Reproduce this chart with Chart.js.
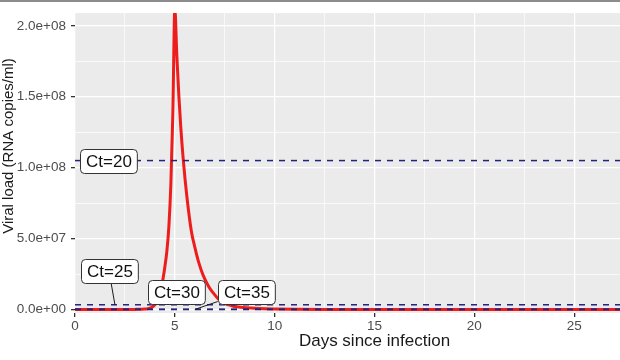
<!DOCTYPE html>
<html>
<head>
<meta charset="utf-8">
<script src="https://cdn.jsdelivr.net/npm/chart.js@4.4.1/dist/chart.umd.min.js"></script>
<style>
  html, body { margin: 0; padding: 0; background: #fff; overflow: hidden; width: 620px; height: 360px; }
  #wrap { position: absolute; left: 0; top: 0; width: 684px; height: 360px; }
  #topline { position: absolute; left: 0; top: 0; width: 620px; height: 2px; background: #8c8c8c; }
</style>
</head>
<body>
<div id="wrap"><canvas id="chart"></canvas></div>
<div id="topline"></div>
<script>
// ── Dados ────────────────────────────────────────────────────────
const days      = [0, 1, 2, 3, 3.5, 3.75, 4.0, 4.25, 4.4, 4.5, 4.6, 4.7, 4.8, 4.9, 5.0,
                   5.1, 5.2, 5.3, 5.42, 5.6, 5.83, 6.0, 6.2, 6.42, 6.7, 6.92, 7.2, 7.42,
                   7.7, 7.92, 8.3, 8.6, 9.0, 9.5, 10, 11, 13, 30];
const viralLoad = [0, 0, 0, 0.05e6, 0.3e6, 0.9e6, 3.2e6, 10e6, 21e6, 30e6, 41e6, 58e6, 88e6, 138e6, 212e6,
                   179e6, 151e6, 128e6, 106e6, 80e6, 55e6, 44e6, 33e6, 24e6, 16e6, 11.7e6, 7e6, 4.7e6,
                   3.2e6, 2.3e6, 1.6e6, 1.2e6, 0.8e6, 0.5e6, 0.3e6, 0.1e6, 0.03e6, 0];

const ctLabels = ['Ct=20', 'Ct=25', 'Ct=30', 'Ct=35'];
const ctLevels = [1.05e8, 3.3e6, 1.03e5, 3.2e3];

const xMajorTicks = [0, 5, 10, 15, 20, 25, 30];
const xMinorTicks = [2.5, 7.5, 12.5, 17.5, 22.5, 27.5];
const xTickLabels = ['0', '5', '10', '15', '20', '25', '30'];
const yMajorTicks = [0, 5e7, 1e8, 1.5e8, 2e8];
const yMinorTicks = [2.5e7, 7.5e7, 1.25e8, 1.75e8];
const yTickLabels = ['0.0e+00', '5.0e+07', '1.0e+08', '1.5e+08', '2.0e+08'];

// posição dos rótulos (estilo ggrepel): centro da caixa e ponto âncora, em unidades dos eixos
const ctLabelPos = [
    { cx: 1.68, cy: 1.047e8, ax: 2 },
    { cx: 1.70, cy: 27.4e6,  ax: 2 },
    { cx: 5.06, cy: 12.5e6,  ax: 5 },
    { cx: 8.57, cy: 12.5e6,  ax: 6 }
];

const FONT = '"Liberation Sans", Arial, sans-serif';
const isMajor = (list, v) => list.some(m => Math.abs(m - v) < 1e-9 * Math.max(1, Math.abs(m)));

// ── Plugins ──────────────────────────────────────────────────────
const panelBg = {
    id: 'panelBg',
    beforeDraw(chart) {
        const { ctx, chartArea: a } = chart;
        ctx.save();
        ctx.fillStyle = '#ebebeb';
        ctx.fillRect(a.left, a.top, a.right - a.left, a.bottom - a.top);
        ctx.restore();
    }
};

const ctLabelPlugin = {
    id: 'ctLabels',
    afterDatasetsDraw(chart) {
        const { ctx, scales: { x, y } } = chart;
        ctx.save();
        ctx.font = '17px ' + FONT;
        ctLabels.forEach((txt, i) => {
            const p  = ctLabelPos[i];
            const cx = x.getPixelForValue(p.cx), cy = y.getPixelForValue(p.cy);
            const ax = x.getPixelForValue(p.ax), ay = y.getPixelForValue(ctLevels[i]);
            const w  = ctx.measureText(txt).width + 11, h = 24;

            // segmento até o ponto
            const dx = ax - cx, dy = ay - cy;
            const t = Math.min(Math.abs((w / 2) / dx), Math.abs((h / 2) / dy));
            if (t < 1) {
                const sx = cx + dx * t, sy = cy + dy * t;
                if (Math.hypot(ax - sx, ay - sy) > 8) {
                    ctx.strokeStyle = '#1a1a1a';
                    ctx.lineWidth = 1;
                    ctx.beginPath();
                    ctx.moveTo(sx, sy);
                    ctx.lineTo(ax, ay);
                    ctx.stroke();
                }
            }

            // caixa arredondada
            const l = Math.round(cx - w / 2) + 0.5, tp = Math.round(cy - h / 2) + 0.5, r = 4;
            ctx.beginPath();
            ctx.moveTo(l + r, tp);
            ctx.lineTo(l + w - r, tp);
            ctx.arcTo(l + w, tp, l + w, tp + r, r);
            ctx.lineTo(l + w, tp + h - r);
            ctx.arcTo(l + w, tp + h, l + w - r, tp + h, r);
            ctx.lineTo(l + r, tp + h);
            ctx.arcTo(l, tp + h, l, tp + h - r, r);
            ctx.lineTo(l, tp + r);
            ctx.arcTo(l, tp, l + r, tp, r);
            ctx.closePath();
            ctx.fillStyle = '#ffffff';
            ctx.fill();
            ctx.strokeStyle = '#333333';
            ctx.lineWidth = 1;
            ctx.stroke();

            ctx.fillStyle = '#111111';
            ctx.textAlign = 'center';
            ctx.textBaseline = 'middle';
            ctx.fillText(txt, l + w / 2, tp + h / 2 + 1);
        });
        ctx.restore();
    }
};

const yTitlePlugin = {
    id: 'yTitle',
    afterDraw(chart) {
        const ctx = chart.ctx;
        ctx.save();
        ctx.translate(12.5, 146);
        ctx.rotate(-Math.PI / 2);
        ctx.font = '15px ' + FONT;
        ctx.fillStyle = '#1a1a1a';
        ctx.textAlign = 'center';
        ctx.textBaseline = 'alphabetic';
        ctx.fillText('Viral load (RNA copies/ml)', 0, 0);
        ctx.restore();
    }
};

// ── Gráfico ──────────────────────────────────────────────────────
const ctDatasets = ctLevels.map(v => ({
    data: [{ x: 0, y: v }, { x: 30, y: v }],
    borderColor: '#22227a',
    borderWidth: 1.5,
    borderDash: [6, 6],
    pointRadius: 0
}));

const curve = {
    data: days.map((d, i) => ({ x: d, y: viralLoad[i] })),
    borderColor: '#ee1d1d',
    borderWidth: 3,
    pointRadius: 0,
    cubicInterpolationMode: 'monotone',
    clip: 0
};

new Chart(document.getElementById('chart').getContext('2d'), {
    type: 'line',
    data: { datasets: [...ctDatasets, curve] },
    options: {
        responsive: true,
        maintainAspectRatio: false,
        animation: false,
        layout: { padding: { top: 12, right: 10, left: 0, bottom: 0 } },
        plugins: { legend: { display: false }, tooltip: { enabled: false } },
        scales: {
            x: {
                type: 'linear', min: 0, max: 30,
                afterBuildTicks: s => { s.ticks = [...xMajorTicks, ...xMinorTicks].sort((a, b) => a - b).map(v => ({ value: v })); },
                afterFit: s => { s.height = 47; },
                border: { display: false },
                grid: {
                    color: '#ffffff',
                    lineWidth: c => isMajor(xMajorTicks, c.tick.value) ? 1.3 : 0.7,
                    tickColor: c => isMajor(xMajorTicks, c.tick.value) ? '#333333' : 'rgba(0,0,0,0)',
                    tickLength: 4
                },
                ticks: {
                    autoSkip: false, maxRotation: 0, padding: 1,
                    color: '#4d4d4d', font: { family: FONT, size: 13.5 },
                    callback: v => { const i = xMajorTicks.indexOf(v); return i >= 0 ? xTickLabels[i] : ''; }
                },
                title: {
                    display: true, text: 'Days since infection', color: '#1a1a1a',
                    font: { family: FONT, size: 17, lineHeight: 1.2 },
                    padding: { top: 0, bottom: 8 }
                }
            },
            y: {
                type: 'linear', min: -2.5e6, max: 2.09e8,
                afterBuildTicks: s => { s.ticks = [...yMajorTicks, ...yMinorTicks].sort((a, b) => a - b).map(v => ({ value: v })); },
                afterFit: s => { s.width = 75; },
                border: { display: false },
                grid: {
                    color: '#ffffff',
                    lineWidth: c => isMajor(yMajorTicks, c.tick.value) ? 1.3 : 0.7,
                    tickColor: c => isMajor(yMajorTicks, c.tick.value) ? '#333333' : 'rgba(0,0,0,0)',
                    tickLength: 4
                },
                ticks: {
                    autoSkip: false, padding: 5,
                    color: '#4d4d4d', font: { family: FONT, size: 13.5 },
                    callback: v => { const i = yMajorTicks.indexOf(v); return i >= 0 ? yTickLabels[i] : ''; }
                }
            }
        }
    },
    plugins: [panelBg, ctLabelPlugin, yTitlePlugin]
});
</script>
</body>
</html>
